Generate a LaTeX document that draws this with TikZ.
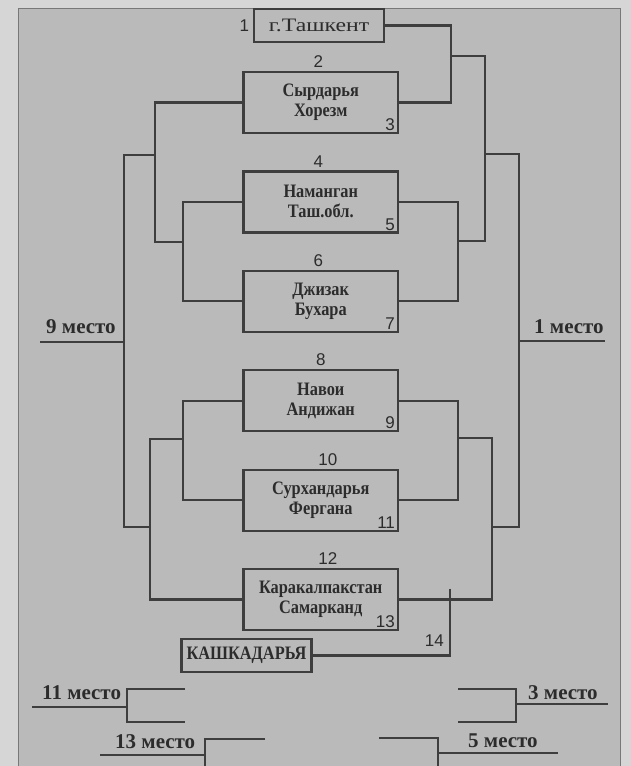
\documentclass[tikz,border=0pt]{standalone}
\usepackage{fontspec}
\setmainfont{Liberation Serif}
\newfontfamily\numfont{Liberation Sans}
\newfontfamily\teamfont[FakeStretch=0.86]{Liberation Serif}
\newfontfamily\cityfont[FakeStretch=1.25]{Liberation Serif}
\usetikzlibrary{positioning}
\definecolor{paper}{RGB}{214,214,214}
\definecolor{panel}{RGB}{186,186,186}
\definecolor{ink}{RGB}{62,62,62}
\definecolor{textink}{RGB}{44,44,44}

\begin{document}
\begin{tikzpicture}[
    x=1pt, y=-1pt, % pixel grid, y goes down
    line/.style={draw=ink, line width=2.2pt},
    box/.style={rectangle, draw=ink, line width=2.2pt, minimum width=154.5pt, minimum height=61pt, inner sep=0pt, align=center, text=textink, font=\teamfont\fontsize{19}{20}\selectfont\bfseries},
    smallbox/.style={box, minimum width=130pt, minimum height=33pt},
    num/.style={inner sep=0pt, text=textink, font=\numfont\fontsize{17}{17}\selectfont},
    place/.style={inner sep=0pt, text=textink, font=\fontsize{21}{21}\selectfont\bfseries}
]
    % Background
    \useasboundingbox (0,0) rectangle (631,766);
    \fill[paper] (0,0) rectangle (631,766);
    \filldraw[fill=panel, draw=ink!70, line width=0.6pt] (18,8) rectangle (620,770);

    % Teams
    \node [smallbox, font=\cityfont\fontsize{19}{20}\selectfont] (tash) at (319,25.5) {г.Ташкент};
    \node [box] (syr) at (320.75,102.5) {Сырдарья\\Хорезм};
    \node [box, below=36.2pt of syr] (nam) {Наманган\\Таш.обл.};
    \node [box, below=36.2pt of nam] (dzh) {Джизак\\Бухара};
    \node [box, below=36.2pt of dzh] (nav) {Навои\\Андижан};
    \node [box, below=36.2pt of nav] (sur) {Сурхандарья\\Фергана};
    \node [box, below=36.2pt of sur] (kar) {Каракалпакстан\\Самарканд};
    \node [smallbox] (kash) at (246.5,655.5) {КАШКАДАРЬЯ};

    % Numbers
    \node [num, left=3.5pt of tash] (n1) {1};
    \node [num, above=3pt of syr, xshift=-2.5pt] (n2) {2};
    \node [num, anchor=south east, xshift=-4pt, yshift=3pt] (n3) at (syr.south east) {3};
    \node [num, above=3pt of nam, xshift=-2.5pt] (n4) {4};
    \node [num, anchor=south east, xshift=-4pt, yshift=3pt] (n5) at (nam.south east) {5};
    \node [num, above=3pt of dzh, xshift=-2.5pt] (n6) {6};
    \node [num, anchor=south east, xshift=-4pt, yshift=3pt] (n7) at (dzh.south east) {7};
    \node [num, above=3pt of nav] (n8) {8};
    \node [num, anchor=south east, xshift=-4pt, yshift=3pt] (n9) at (nav.south east) {9};
    \node [num, above=3pt of sur, xshift=7pt] (n10) {10};
    \node [num, anchor=south east, xshift=-4pt, yshift=3pt] (n11) at (sur.south east) {11};
    \node [num, above=3pt of kar, xshift=7pt] (n12) {12};
    \node [num, anchor=south east, xshift=-4pt, yshift=3pt] (n13) at (kar.south east) {13};

    % Right half
    \coordinate (ra) at (451,56);
    \coordinate (rb) at (458,241);
    \coordinate (rc) at (485,154);
    \coordinate (rd) at (458,438);
    \coordinate (re) at (492,527);
    \coordinate (rf) at (519,341);
    \coordinate (rg) at (450,588.5);
    \coordinate (first) at (605,341);
    \draw [line] (tash.east) -| (ra) |- (syr.east);
    \draw [line] (nam.east) -| (rb) |- (dzh.east);
    \draw [line] (ra) -| (rc) |- (rb);
    \draw [line] (nav.east) -| (rd) |- (sur.east);
    \draw [line] (rd) -| (re) |- (kar.east);
    \draw [line] (rc) -| (rf) |- (re);
    \draw [line] (rf) -- (first);
    \draw [line] (rg) |- (kash.east);
    \node [num, anchor=south east] (n14) at (444,647) {14};
    \node [place, anchor=base west] (p1) at (534,333) {1 место};

    % Left half
    \coordinate (la) at (155,155);
    \coordinate (lb) at (183,242);
    \coordinate (lc) at (155,242);
    \coordinate (ld) at (124,342);
    \coordinate (le) at (150,527);
    \coordinate (lf) at (183,439);
    \coordinate (ninth) at (40,342);
    \draw [line] (syr.west) -| (lc) -- (lb);
    \draw [line] (nam.west) -| (lb) |- (dzh.west);
    \draw [line] (la) -| (ld) |- (le);
    \draw [line] (nav.west) -| (lf) |- (sur.west);
    \draw [line] (lf) -| (le) |- (kar.west);
    \draw [line] (ld) -- (ninth);
    \node [place, anchor=base west] (p9) at (46,333) {9 место};

    % Places below
    \coordinate (b11) at (127,707);
    \coordinate (b11t) at (185,689);
    \coordinate (b11b) at (185,722);
    \coordinate (b11l) at (32,707);
    \draw [line] (b11t) -| (b11) |- (b11b);
    \draw [line] (b11) -- (b11l);
    \node [place, anchor=base west] (p11) at (42,699) {11 место};

    \coordinate (b3) at (516,704);
    \coordinate (b3t) at (458,689);
    \coordinate (b3b) at (458,722);
    \coordinate (b3r) at (608,704);
    \draw [line] (b3t) -| (b3) |- (b3b);
    \draw [line] (b3) -- (b3r);
    \node [place, anchor=base west] (p3) at (528,699) {3 место};

    \coordinate (b13) at (205,755);
    \coordinate (b13t) at (265,739);
    \coordinate (b13d) at (205,772);
    \coordinate (b13l) at (100,755);
    \draw [line] (b13t) -| (b13) -- (b13d);
    \draw [line] (b13) -- (b13l);
    \node [place, anchor=base west] (p13) at (115,748) {13 место};

    \coordinate (b5) at (438,753);
    \coordinate (b5t) at (379,738);
    \coordinate (b5d) at (438,772);
    \coordinate (b5r) at (558,753);
    \draw [line] (b5t) -| (b5) -- (b5d);
    \draw [line] (b5) -- (b5r);
    \node [place, anchor=base west] (p5) at (468,747) {5 место};
\end{tikzpicture}
\end{document}
